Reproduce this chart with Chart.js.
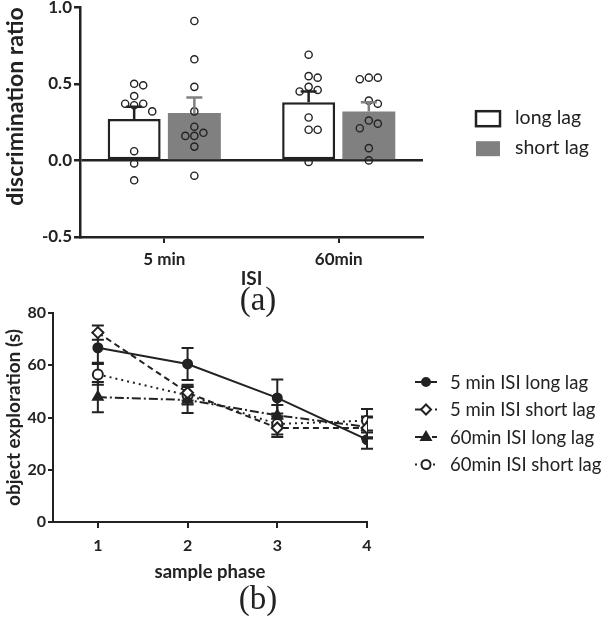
<!DOCTYPE html>
<html>
<head>
<meta charset="utf-8">
<script src="https://cdn.jsdelivr.net/npm/chart.js@4"></script>
<style>
  body { margin: 0; background: #fff; width: 604px; height: 622px; position: relative; overflow: hidden; }
  #wrapA { position: absolute; left: 0; top: -5px; width: 604px; height: 295px; }
  #wrapB { position: absolute; left: 0; top: 300px; width: 604px; height: 290px; }
  .panel { position: absolute; width: 60px; text-align: center; font-family: "Liberation Serif", serif; font-size: 33px; color: #222; }
</style>
</head>
<body>
<div id="wrapA"><canvas id="chartA"></canvas></div>
<div class="panel" style="left:228px; top:281px;">(a)</div>
<div id="wrapB"><canvas id="chartB"></canvas></div>
<div class="panel" style="left:228px; top:580px;">(b)</div>
<script>
// ---- panel (a) data ----
const isiLabels = ['5 min', '60min'];
const longLagMean = [0.27, 0.38];
const longLagSem = [0.08, 0.07];
const shortLagMean = [0.31, 0.32];
const shortLagSem = [0.10, 0.06];
const longLag5 = [0.50, 0.49, 0.42, 0.37, 0.36, 0.37, 0.32, 0.06, -0.02, -0.13];
const shortLag5 = [0.91, 0.66, 0.48, 0.32, 0.22, 0.18, 0.16, 0.16, 0.09, -0.10];
const longLag60 = [0.69, 0.55, 0.54, 0.48, 0.46, 0.45, 0.28, 0.20, 0.20, -0.01];
const shortLag60 = [0.54, 0.53, 0.54, 0.39, 0.37, 0.26, 0.24, 0.21, 0.08, 0.00];
const ratioTicks = [-0.5, 0.0, 0.5, 1.0];

// ---- panel (b) data ----
const phases = [1, 2, 3, 4];
const min5Long = [66.7, 60.5, 47.5, 31.5];
const min5LongSem = [5.7, 6.1, 7.0, 3.5];
const min5Short = [72.5, 49.5, 36.0, 36.0];
const min5ShortSem = [2.7, 3.0, 3.5, 4.0];
const min60Long = [47.8, 46.7, 40.8, 36.4];
const min60LongSem = [5.8, 5.0, 4.0, 4.0];
const min60Short = [56.5, 48.5, 37.5, 38.8];
const min60ShortSem = [4.0, 3.5, 4.0, 4.5];
const explorationTicks = [0, 20, 40, 60, 80];

const INK = '#222';
const GREY = '#808080';
const bold = size => ({ family: 'Lato', size, weight: 'bold' });

// spread dots of similar value sideways, like a scatter dot plot
function swarm(values, pxPerX, pxPerY) {
  const d = 9, placed = [], out = new Array(values.length).fill(0);
  const order = values.map((v, i) => i).sort((a, b) => values[b] - values[a]);
  order.forEach(i => {
    const y = values[i] * pxPerY;
    for (let k = 0; k < 30; k++) {
      const off = (k % 2 ? 1 : -1) * Math.ceil(k / 2) * d / 2;
      if (placed.every(p => Math.hypot(p.x - off, p.y - y) >= d)) {
        placed.push({ x: off, y });
        out[i] = off / pxPerX;
        break;
      }
    }
  });
  return out;
}

const catPct = 0.69;
function dots(groups, side) {
  const pts = [];
  groups.forEach((vals, g) => {
    const jit = swarm(vals, 174, 152);
    vals.forEach((v, i) => pts.push({ x: g + side * catPct / 4 + jit[i], y: v }));
  });
  return pts;
}

const barErrors = {
  id: 'barErrors',
  afterDatasetsDraw(chart, args, opts) {
    const { ctx, scales: { y } } = chart;
    opts.sets.forEach(s => {
      const meta = chart.getDatasetMeta(s.dataset);
      ctx.save();
      ctx.strokeStyle = s.color;
      ctx.lineWidth = 2.5;
      meta.data.forEach((bar, i) => {
        const top = y.getPixelForValue(s.mean[i] + s.sem[i]);
        const base = y.getPixelForValue(s.mean[i]);
        ctx.beginPath();
        ctx.moveTo(bar.x, base);
        ctx.lineTo(bar.x, top);
        ctx.moveTo(bar.x - 8, top);
        ctx.lineTo(bar.x + 8, top);
        ctx.stroke();
      });
      ctx.restore();
    });
  }
};

const boxLegend = {
  id: 'boxLegend',
  afterDraw(chart, args, opts) {
    const { ctx, chartArea } = chart;
    ctx.save();
    ctx.font = '19.5px Lato';
    ctx.textBaseline = 'middle';
    opts.items.forEach((it, i) => {
      const x = chartArea.right + 53, y = chartArea.top + 104 + i * 30;
      ctx.fillStyle = it.fill;
      ctx.fillRect(x, y, 24, 15);
      if (it.border) {
        ctx.strokeStyle = it.border;
        ctx.lineWidth = 2.5;
        ctx.strokeRect(x, y, 24, 15);
      }
      ctx.fillStyle = INK;
      ctx.fillText(it.text, x + 39, y + 7);
    });
    ctx.restore();
  }
};

new Chart(document.getElementById('chartA'), {
  type: 'bar',
  data: {
    datasets: [
      { label: 'long lag', data: isiLabels.map((_, i) => ({ x: i, y: longLagMean[i] })),
        backgroundColor: '#fff', borderColor: INK, borderWidth: 2.5, borderSkipped: false,
        barPercentage: 0.88, categoryPercentage: catPct, order: 2 },
      { label: 'short lag', data: isiLabels.map((_, i) => ({ x: i, y: shortLagMean[i] })),
        backgroundColor: GREY, borderWidth: 0,
        barPercentage: 0.88, categoryPercentage: catPct, order: 2 },
      { type: 'scatter', data: dots([longLag5, longLag60], -1), pointRadius: 3.6,
        pointBackgroundColor: 'transparent', pointBorderColor: INK, pointBorderWidth: 1.4, order: 1 },
      { type: 'scatter', data: dots([shortLag5, shortLag60], 1), pointRadius: 3.6,
        pointBackgroundColor: 'transparent', pointBorderColor: INK, pointBorderWidth: 1.4, order: 1 }
    ]
  },
  options: {
    responsive: true, maintainAspectRatio: false, animation: false,
    layout: { padding: { left: 2, right: 181, top: 9, bottom: 0 } },
    plugins: {
      legend: { display: false }, tooltip: { enabled: false },
      barErrors: { sets: [
        { dataset: 0, mean: longLagMean, sem: longLagSem, color: INK },
        { dataset: 1, mean: shortLagMean, sem: shortLagSem, color: GREY }
      ] },
      boxLegend: { items: [
        { text: 'long lag', fill: '#fff', border: INK },
        { text: 'short lag', fill: GREY }
      ] }
    },
    scales: {
      x: {
        type: 'linear', min: -0.483, max: 1.483, offset: false,
        afterBuildTicks: s => { s.ticks = isiLabels.map((_, i) => ({ value: i })); },
        afterFit: s => { s.height = 53; },
        ticks: { font: bold(17), color: INK, padding: 6, autoSkip: false, maxRotation: 0,
                 callback: v => isiLabels[v] },
        grid: { display: true, offset: false, drawOnChartArea: false, drawTicks: true, tickLength: 6, color: INK, lineWidth: 2 },
        border: { display: true, color: INK, width: 2.5 },
        title: { display: true, text: 'ISI', font: bold(19), color: INK, padding: { top: 0, bottom: 0 } }
      },
      y: {
        min: -0.5, max: 1.0,
        afterBuildTicks: s => { s.ticks = ratioTicks.map(v => ({ value: v })); },
        afterFit: s => { s.width = 78; },
        ticks: { font: bold(17), color: INK, padding: 2, callback: v => v.toFixed(1) },
        grid: { display: true, drawOnChartArea: true, drawTicks: true, tickLength: 6,
                color: c => c.tick && c.tick.value === 0 ? INK : 'transparent', tickColor: INK, lineWidth: 2.5 },
        border: { display: true, color: INK, width: 2.5 },
        title: { display: true, text: 'discrimination ratio', align: 'end', font: bold(23), color: INK, padding: { top: 0, bottom: 0 } }
      }
    }
  },
  plugins: [barErrors, boxLegend]
});

// ---- panel (b) ----
const seriesB = [
  { label: '5 min ISI long lag', data: min5Long, sem: min5LongSem, style: 'circle', radius: 4.5, fill: INK, dash: [] },
  { label: '5 min ISI short lag', data: min5Short, sem: min5ShortSem, style: 'rectRot', radius: 5.5, fill: '#fff', dash: [6, 4] },
  { label: '60min ISI long lag', data: min60Long, sem: min60LongSem, style: 'triangle', radius: 5.5, fill: INK, dash: [9, 3, 2, 3] },
  { label: '60min ISI short lag', data: min60Short, sem: min60ShortSem, style: 'circle', radius: 5, fill: '#fff', dash: [2, 4] }
];

const lineErrors = {
  id: 'lineErrors',
  beforeDatasetsDraw(chart) {
    const { ctx, scales: { x, y } } = chart;
    ctx.save();
    ctx.strokeStyle = INK;
    ctx.lineWidth = 2;
    seriesB.forEach(s => {
      s.data.forEach((v, i) => {
        const px = x.getPixelForValue(phases[i]);
        const hi = y.getPixelForValue(v + s.sem[i]);
        const lo = y.getPixelForValue(v - s.sem[i]);
        ctx.beginPath();
        ctx.moveTo(px, lo); ctx.lineTo(px, hi);
        ctx.moveTo(px - 6, hi); ctx.lineTo(px + 6, hi);
        ctx.moveTo(px - 6, lo); ctx.lineTo(px + 6, lo);
        ctx.stroke();
      });
    });
    ctx.restore();
  }
};

function marker(ctx, style, r, fill, x, y) {
  ctx.beginPath();
  if (style === 'circle') {
    ctx.arc(x, y, r, 0, Math.PI * 2);
  } else if (style === 'rectRot') {
    ctx.moveTo(x, y - r); ctx.lineTo(x + r, y); ctx.lineTo(x, y + r); ctx.lineTo(x - r, y); ctx.closePath();
  } else {
    ctx.moveTo(x, y - r); ctx.lineTo(x + r * 0.95, y + r * 0.6); ctx.lineTo(x - r * 0.95, y + r * 0.6); ctx.closePath();
  }
  ctx.fillStyle = fill;
  ctx.fill();
  ctx.stroke();
}

const lineLegend = {
  id: 'lineLegend',
  afterDraw(chart) {
    const { ctx, chartArea } = chart;
    ctx.save();
    ctx.font = '18.5px Lato';
    ctx.textBaseline = 'middle';
    ctx.strokeStyle = INK;
    ctx.lineWidth = 2;
    seriesB.forEach((s, i) => {
      const x = chartArea.right + 48, y = chartArea.top + 69 + i * 27.5;
      ctx.setLineDash(s.dash);
      ctx.beginPath(); ctx.moveTo(x, y); ctx.lineTo(x + 22, y); ctx.stroke();
      ctx.setLineDash([]);
      marker(ctx, s.style, s.radius - 0.5, s.fill, x + 11, y);
      ctx.fillStyle = INK;
      ctx.fillText(s.label, x + 35, y + 1);
    });
    ctx.restore();
  }
};

new Chart(document.getElementById('chartB'), {
  type: 'line',
  data: {
    datasets: seriesB.map(s => ({
      label: s.label,
      data: phases.map((p, i) => ({ x: p, y: s.data[i] })),
      borderColor: INK, borderWidth: 2, borderDash: s.dash, fill: false, tension: 0,
      pointStyle: s.style, pointRadius: s.radius, pointBackgroundColor: s.fill,
      pointBorderColor: INK, pointBorderWidth: 2
    }))
  },
  options: {
    responsive: true, maintainAspectRatio: false, animation: false,
    layout: { padding: { left: 2, right: 237, top: 13, bottom: 0 } },
    plugins: { legend: { display: false }, tooltip: { enabled: false } },
    scales: {
      x: {
        type: 'linear', min: 0.5, max: 4,
        afterBuildTicks: s => { s.ticks = phases.map(v => ({ value: v })); },
        afterFit: s => { s.height = 68; },
        ticks: { font: bold(16), color: INK, padding: 8 },
        grid: { display: true, drawOnChartArea: false, drawTicks: true, tickLength: 6, color: INK, lineWidth: 2 },
        border: { display: true, color: INK, width: 2 },
        title: { display: true, text: 'sample phase', font: bold(18.5), color: INK, padding: { top: 0, bottom: 7 } }
      },
      y: {
        min: 0, max: 80,
        afterBuildTicks: s => { s.ticks = explorationTicks.map(v => ({ value: v })); },
        afterFit: s => { s.width = 51; },
        ticks: { font: bold(16), color: INK, padding: 2 },
        grid: { display: true, drawOnChartArea: false, drawTicks: true, tickLength: 5, color: INK, lineWidth: 2 },
        border: { display: true, color: INK, width: 2 },
        title: { display: true, text: 'object exploration (s)', font: bold(19), color: INK, padding: { top: 0, bottom: 0 } }
      }
    }
  },
  plugins: [lineErrors, lineLegend]
});
</script>
</body>
</html>
